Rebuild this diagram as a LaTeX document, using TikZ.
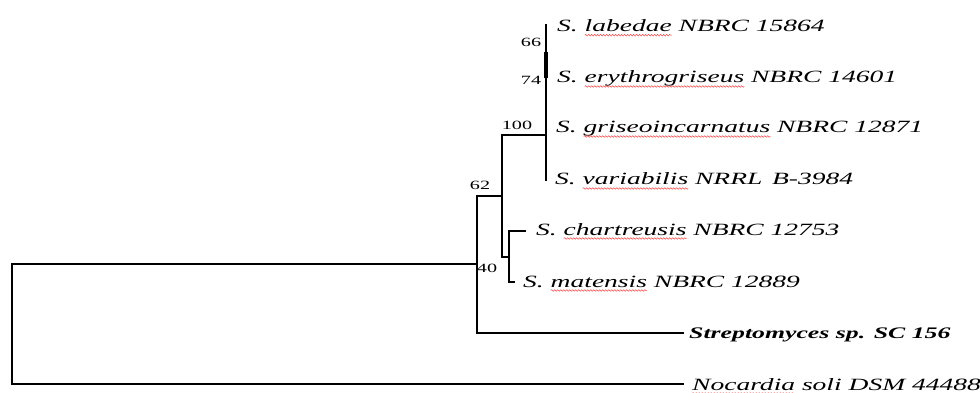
\documentclass[tikz,border=0pt]{standalone}
\usepackage{fontspec}
\setmainfont{Liberation Serif}[FakeStretch=1.6]
\usetikzlibrary{decorations.pathmorphing}

\newcommand{\spellwave}[1]{\tikz[baseline=(w.base)]{\node[inner sep=0pt, outer sep=0pt] (w) {#1};
    \draw[red!75, line width=0.5pt, overlay, decorate, decoration={snake, amplitude=0.8pt, segment length=3pt}]
        ([yshift=-3.5pt]w.base west) -- ([yshift=-3.5pt]w.base east);}}

\tikzset{
    branch/.style={draw=black, line width=1.8pt, line cap=rect},
    taxon/.style={anchor=base west, inner sep=0pt, font=\fontsize{17.2}{20}\selectfont\itshape},
    boot/.style={inner sep=0pt, font=\fontsize{12.6}{14}\selectfont}
}

\begin{document}
\begin{tikzpicture}[x=1pt, y=-1pt]
            \useasboundingbox (0,0) rectangle (980,393);

            % internal nodes
            \coordinate (root) at (12,264);
            \coordinate (n40) at (477,264);
            \coordinate (n62) at (502,196);
            \coordinate (n100) at (546,135);
            \coordinate (ncm) at (509,257);

            % branch tips
            \coordinate (labT) at (546,25);
            \coordinate (varT) at (546,180);
            \coordinate (chaT) at (525,231);
            \coordinate (matT) at (514,282);
            \coordinate (strT) at (683,333);
            \coordinate (nocT) at (683,384);

            \draw[branch] (n40) -- (root) |- (nocT);
            \draw[branch] (n62) -| (n40) |- (strT);
            \draw[branch] (n100) -| (n62) |- (ncm);
            \draw[branch] (labT) -- (varT);
            \draw[branch] (chaT) -| (ncm) |- (matT);
            \draw[draw=black, line width=3.2pt] (546,52) -- (546,78);

            \node[taxon] (lab) at (557,31.7) {S. \spellwave{labedae} NBRC 15864};
            \node[taxon] (ery) at (557,83) {S. \spellwave{erythrogriseus} NBRC 14601};
            \node[taxon] (gri) at (556,133) {S. \spellwave{griseoincarnatus} NBRC 12871};
            \node[taxon] (var) at (555,185) {S. \spellwave{variabilis} NRRL\, B-3984};
            \node[taxon] (cha) at (536,235) {S. \spellwave{chartreusis} NBRC 12753};
            \node[taxon] (mat) at (523,287) {S. \spellwave{matensis} NBRC 12889};
            \node[taxon, font=\fontsize{16.1}{20}\selectfont\bfseries\itshape] (str) at (689,338) {Streptomyces sp. SC 156};
            \node[taxon] (noc) at (692,390) {\spellwave{Nocardia} soli DSM 44488};

            \node[boot] (b66) at (531,42) {66};
            \node[boot] (b74) at (531,80) {74};
            \node[boot] (b100) at (517,125) {100};
            \node[boot] (b62) at (480,185) {62};
            \node[boot] (b40) at (487,268) {40};
        \end{tikzpicture}
\end{document}
